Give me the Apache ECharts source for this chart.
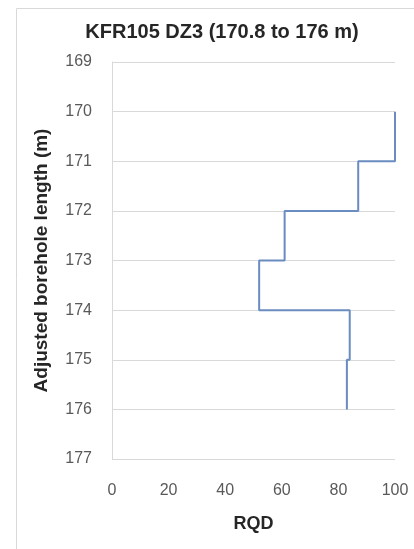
<!DOCTYPE html>
<html><head><meta charset="utf-8">
<style>html,body{margin:0;padding:0;background:#fff;}#c{width:414px;height:549px;}</style>
<script src="https://cdn.jsdelivr.net/npm/echarts@6/dist/echarts.min.js"></script>
</head><body><div id="c"></div>
<script>
var depthBreaks = [170, 171, 172, 173, 174, 175, 176];
var rqdValues = [100, 87, 61, 52, 84, 83];
var xTicks = [0, 20, 40, 60, 80, 100];
var yTicks = [169, 170, 171, 172, 173, 174, 175, 176, 177];

var steps = [];
for (var i = 0; i < rqdValues.length; i++) {
  steps.push([rqdValues[i], depthBreaks[i]]);
  steps.push([rqdValues[i], depthBreaks[i + 1]]);
}

var chart = echarts.init(document.getElementById('c'), null, {renderer: 'canvas'});
var labelFont = '"Liberation Sans", "DejaVu Sans", sans-serif';
chart.setOption({
  animation: false,
  backgroundColor: '#fff',
  graphic: [{
    type: 'rect', left: 14, top: 6, shape: {width: 420, height: 560},
    style: {fill: 'none', stroke: '#d9d9d9', lineWidth: 1}
  }],
  title: {
    text: 'KFR105 DZ3 (170.8 to 176 m)',
    left: 217, top: 17, textAlign: 'center',
    textStyle: {fontFamily: labelFont, fontWeight: 'bold', fontSize: 20, color: '#262626'}
  },
  grid: {left: 112, right: 19, top: 62, bottom: 90},
  xAxis: {
    type: 'value', min: xTicks[0], max: xTicks[xTicks.length - 1], interval: 20,
    name: 'RQD', nameLocation: 'middle', nameGap: 56,
    nameTextStyle: {fontFamily: labelFont, fontWeight: 'bold', fontSize: 18, color: '#262626'},
    axisLine: {show: false}, axisTick: {show: false},
    splitLine: {show: false},
    axisLabel: {margin: 24, fontFamily: labelFont, fontSize: 16, color: '#595959'}
  },
  yAxis: {
    type: 'value', inverse: true, min: yTicks[0], max: yTicks[yTicks.length - 1], interval: 1,
    name: 'Adjusted borehole length (m)', nameLocation: 'middle', nameGap: 61,
    nameTextStyle: {fontFamily: labelFont, fontWeight: 'bold', fontSize: 19, color: '#262626'},
    axisLine: {show: true, lineStyle: {color: '#d9d9d9', width: 1}},
    axisTick: {show: false},
    splitLine: {show: true, lineStyle: {color: '#d9d9d9', width: 1}},
    axisLabel: {margin: 20, fontFamily: labelFont, fontSize: 16, color: '#595959'}
  },
  series: [{
    type: 'line', data: steps, showSymbol: false, symbol: 'none',
    lineStyle: {color: '#6a8cc0', width: 2}
  }]
});
</script></body></html>
